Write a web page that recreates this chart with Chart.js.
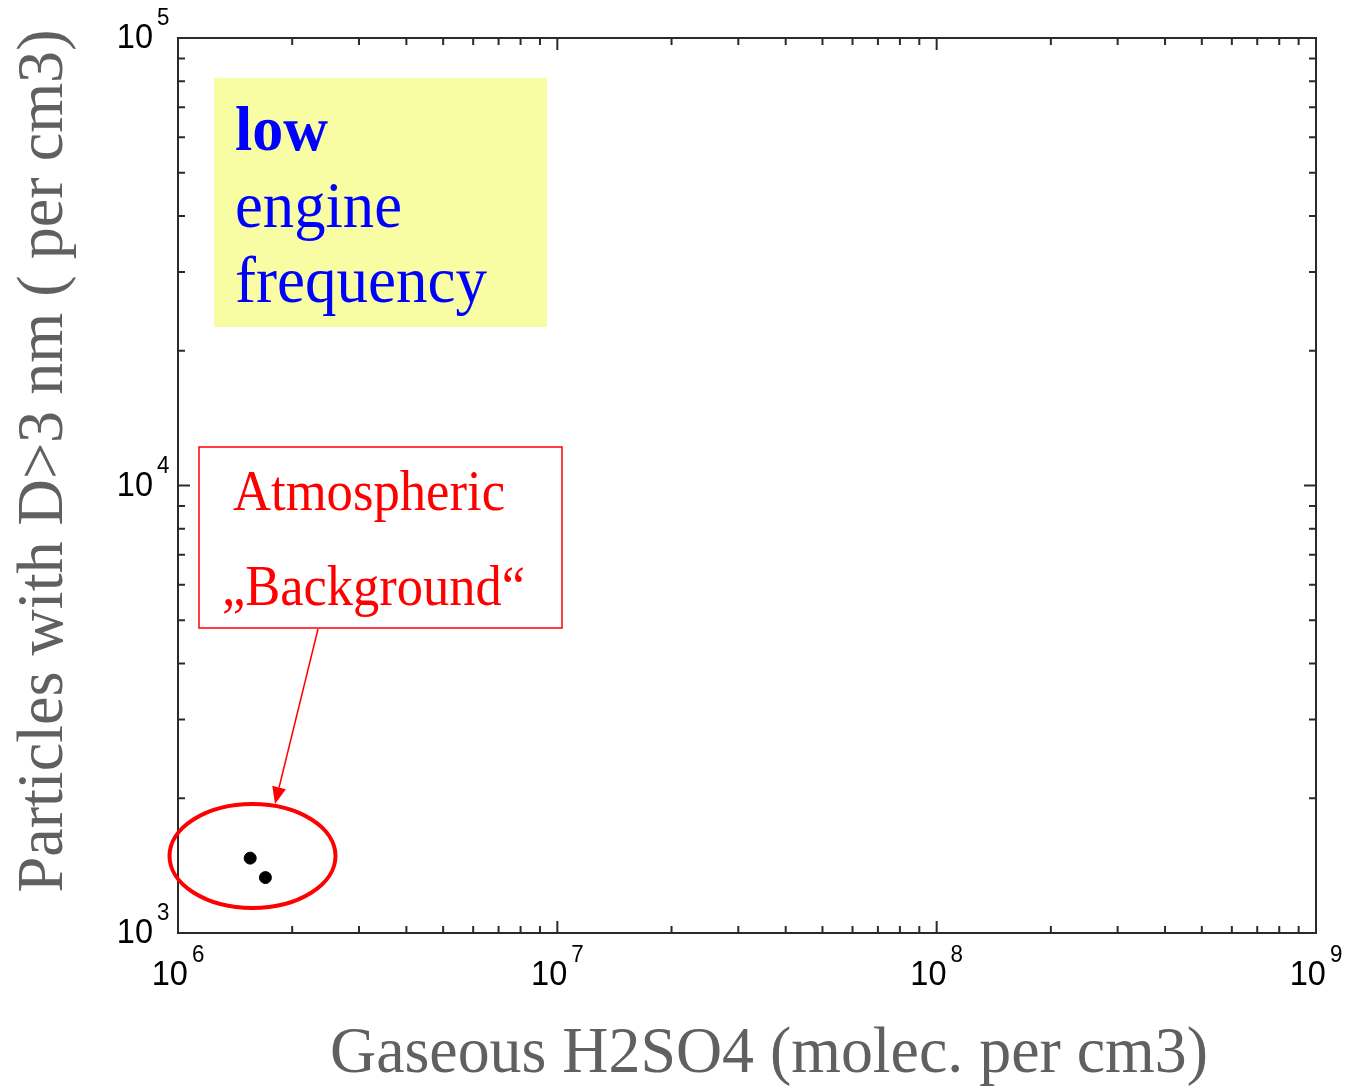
<!DOCTYPE html>
<html>
<head>
<meta charset="utf-8">
<script src="https://cdn.jsdelivr.net/npm/chart.js@4.4.0/dist/chart.umd.min.js"></script>
<style>
  body { margin: 0; background: #fff; }
  #wrap { width: 1346px; height: 1086px; }
</style>
</head>
<body>
<div id="wrap"><canvas id="chart" width="1346" height="1086"></canvas></div>
<script>
// data
const h2so4 = [1.55e6, 1.70e6];          // molec. per cm3
const particles = [1470, 1330];          // per cm3
const xDecades = [6, 7, 8, 9];           // tick labels 10^n
const yDecades = [3, 4, 5];

const serif = '"Liberation Serif", "Times New Roman", serif';
const sans = '"Liberation Sans", Arial, sans-serif';

// draw text squeezed/stretched to a given width
function fitText(ctx, text, x, y, width, font, color, align) {
    ctx.save();
    ctx.font = font;
    ctx.fillStyle = color;
    ctx.textBaseline = 'alphabetic';
    const w = ctx.measureText(text).width;
    const s = width / w;
    ctx.translate(x, y);
    ctx.scale(s, 1);
    ctx.textAlign = align || 'left';
    ctx.fillText(text, 0, 0);
    ctx.restore();
}

// "10" with a superscript exponent
function powerLabel(ctx, exp, x, y, align) {
    const sx = 0.93;
    ctx.save();
    ctx.fillStyle = '#000';
    ctx.textBaseline = 'alphabetic';
    ctx.font = '35px ' + sans;
    const bw = ctx.measureText('10').width * sx;
    ctx.font = '24px ' + sans;
    const ew = ctx.measureText(String(exp)).width * sx;
    const gap = 4;
    const left = align === 'right' ? x - bw : x - (bw + gap + ew) / 2;
    ctx.translate(left, y);
    ctx.scale(sx, 1);
    ctx.font = '35px ' + sans;
    ctx.fillText('10', 0, 0);
    ctx.font = '24px ' + sans;
    ctx.fillText(String(exp), (bw + gap) / sx, -23);
    ctx.restore();
}

const framePlugin = {
    id: 'frame',
    beforeDatasetsDraw(chart) {
        const { ctx, chartArea: a, scales: { x, y } } = chart;
        ctx.save();
        ctx.strokeStyle = '#2a2a2a';
        ctx.lineWidth = 2;
        ctx.strokeRect(a.left, a.top, a.right - a.left, a.bottom - a.top);

        ctx.beginPath();
        for (let d = xDecades[0]; d <= xDecades[xDecades.length - 1]; d++) {
            for (let k = 1; k <= 9; k++) {
                const v = k * Math.pow(10, d);
                if (v < x.min || v > x.max) continue;
                const px = x.getPixelForValue(v);
                const len = k === 1 ? 12 : 7;
                ctx.moveTo(px, a.bottom); ctx.lineTo(px, a.bottom - len);
                ctx.moveTo(px, a.top); ctx.lineTo(px, a.top + len);
            }
        }
        for (let d = yDecades[0]; d <= yDecades[yDecades.length - 1]; d++) {
            for (let k = 1; k <= 9; k++) {
                const v = k * Math.pow(10, d);
                if (v < y.min || v > y.max) continue;
                const py = y.getPixelForValue(v);
                const len = k === 1 ? 12 : 7;
                ctx.moveTo(a.left, py); ctx.lineTo(a.left + len, py);
                ctx.moveTo(a.right, py); ctx.lineTo(a.right - len, py);
            }
        }
        ctx.stroke();
        ctx.restore();

        xDecades.forEach(n => powerLabel(ctx, n, x.getPixelForValue(Math.pow(10, n)), a.bottom + 52, 'center'));
        yDecades.forEach(n => powerLabel(ctx, n, a.left - 25, y.getPixelForValue(Math.pow(10, n)) + 10, 'right'));

        // axis titles
        fitText(ctx, 'Gaseous H2SO4 (molec. per cm3)', 769, 1072, 878, '66px ' + serif, '#606060', 'center');
        ctx.save();
        ctx.translate(62, 461);
        ctx.rotate(-Math.PI / 2);
        fitText(ctx, 'Particles with D>3 nm ( per cm3)', 0, 0, 863, '66px ' + serif, '#606060', 'center');
        ctx.restore();

        // yellow note
        ctx.fillStyle = '#f8fca2';
        ctx.fillRect(214, 78, 333, 249);
        fitText(ctx, 'low', 235, 150, 93, 'bold 64px ' + serif, '#0000ff');
        fitText(ctx, 'engine', 235, 227, 167, '66px ' + serif, '#0000ff');
        fitText(ctx, 'frequency', 235, 302, 252, '66px ' + serif, '#0000ff');

        // red callout
        ctx.save();
        ctx.fillStyle = '#fff';
        ctx.fillRect(199, 447, 363, 181);
        ctx.strokeStyle = '#ff0000';
        ctx.lineWidth = 1.5;
        ctx.strokeRect(199, 447, 363, 181);
        ctx.restore();
        fitText(ctx, 'Atmospheric', 233, 510, 272, '56px ' + serif, '#ff0000');
        fitText(ctx, '\u201EBackground\u201C', 222, 605, 303, '56px ' + serif, '#ff0000');
    },
    afterDatasetsDraw(chart) {
        const { ctx } = chart;
        ctx.save();
        ctx.strokeStyle = '#ff0000';
        ctx.fillStyle = '#ff0000';
        // ellipse round the background points
        ctx.lineWidth = 4;
        ctx.beginPath();
        ctx.ellipse(252.5, 856, 83, 52, 0, 0, Math.PI * 2);
        ctx.stroke();
        // arrow from callout to ellipse
        const x0 = 318, y0 = 629, x1 = 275, y1 = 804;
        const ang = Math.atan2(y1 - y0, x1 - x0);
        const hl = 17, hw = 7;
        const bx = x1 - hl * Math.cos(ang), by = y1 - hl * Math.sin(ang);
        ctx.lineWidth = 1.5;
        ctx.beginPath();
        ctx.moveTo(x0, y0); ctx.lineTo(bx, by);
        ctx.stroke();
        ctx.beginPath();
        ctx.moveTo(x1, y1);
        ctx.lineTo(bx + hw * Math.sin(ang), by - hw * Math.cos(ang));
        ctx.lineTo(bx - hw * Math.sin(ang), by + hw * Math.cos(ang));
        ctx.closePath();
        ctx.fill();
        ctx.restore();
    }
};

new Chart(document.getElementById('chart'), {
    type: 'scatter',
    data: {
        datasets: [{
            data: h2so4.map((v, i) => ({ x: v, y: particles[i] })),
            backgroundColor: '#000',
            borderColor: '#000',
            pointRadius: 6,
            pointHoverRadius: 6
        }]
    },
    options: {
        responsive: false,
        animation: false,
        events: [],
        layout: { padding: { left: 178, top: 38, right: 30, bottom: 153 } },
        plugins: { legend: { display: false }, tooltip: { enabled: false } },
        scales: {
            x: { type: 'logarithmic', min: 1e6, max: 1e9, display: false },
            y: { type: 'logarithmic', min: 1e3, max: 1e5, display: false }
        }
    },
    plugins: [framePlugin]
});
</script>
</body>
</html>
